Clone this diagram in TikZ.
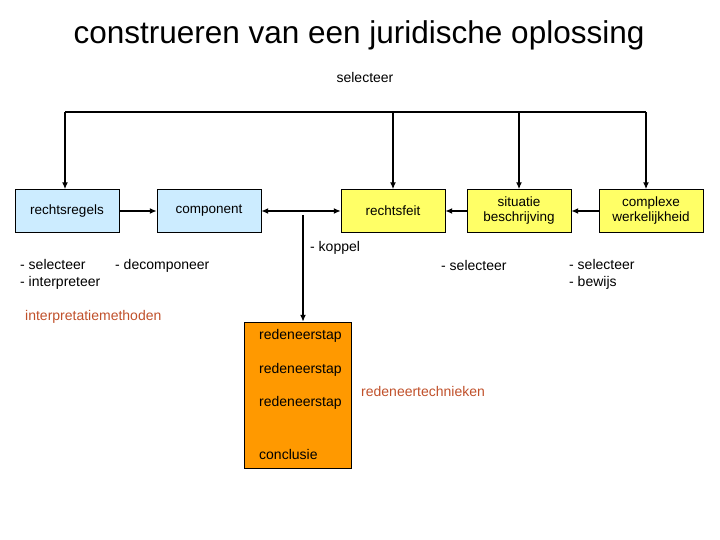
\documentclass[tikz,border=0pt]{standalone}
\usepackage{fontspec}
\setmainfont{Liberation Sans}
\usetikzlibrary{positioning}
\usetikzlibrary{arrows.meta}
\definecolor{lichtblauw}{HTML}{CCECFF}
\definecolor{geel}{HTML}{FFFF66}
\definecolor{oranje}{HTML}{FF9900}
\definecolor{roodbruin}{HTML}{C0502A}

\begin{document}
\begin{tikzpicture}[
            x = 1pt, y = -1pt,
            box/.style = {
                draw,
                fill = #1,
                minimum width = 104pt,
                minimum height = 43pt,
                inner sep = 0pt,
                align = center,
                font = \fontsize{13.5}{15}\selectfont
            },
            box/.default = lichtblauw,
            txt/.style = {anchor = west, align = left, inner sep = 0pt,
                font = \fontsize{14}{17}\selectfont},
            link/.style = {line width = 1.6pt, -{Latex[length=7pt,width=6pt]}},
            node distance = {10pt}
            ]
            \useasboundingbox (0,0) rectangle (720,540);
            \node[font=\fontsize{31.5}{36}\selectfont] (title) at (359,35) {construeren van een juridische oplossing};
            \node[txt, anchor=center] (sel) at (365,77) {selecteer};

            \node[box] (regels) at (67,211) {rechtsregels};
            \node[box] (comp) at (209,211) {component};
            \node[box=geel] (feit) at (393,211) {rechtsfeit};
            \node[box=geel] (situ) at (519,211) {situatie\\beschrijving};
            \node[box=geel] (compl) at (651,211) {complexe\\werkelijkheid};

            % selectie van bovenaf
            \coordinate (t1) at (65,112);
            \coordinate (t4) at (646,112);
            \draw[line width=1.4pt] (t1) -- (t4);
            \draw[link] (t1) -- (regels.north -| t1);
            \draw[link] (393,112) -- (feit);
            \draw[link] (519,112) -- (situ);
            \draw[link] (t4) -- (compl.north -| t4);

            \draw[link] (regels) -- (comp);
            \draw[link, {Latex[length=7pt,width=6pt]}-{Latex[length=7pt,width=6pt]}] (comp) -- (feit);
            \draw[link] (situ) -- (feit);
            \draw[link] (compl) -- (situ);

            \node[box=oranje, minimum width=107pt, minimum height=146pt] (stap) at (298,395) {};
            \coordinate (k) at (303,215);
            \draw[link] (k) -- (stap.north -| k);

            \node[txt] (koppel) at (310,248) {- koppel};
            \node[txt] (interp) at (20,274) {- selecteer\\- interpreteer};
            \node[txt] (decomp) at (115,266) {- decomponeer};
            \node[txt] (sel2) at (441,265) {- selecteer};
            \node[txt] (bewijs) at (569,274) {- selecteer\\- bewijs};
            \node[txt, text=roodbruin] (methoden) at (25,317) {interpretatiemethoden};

            \node[txt] (s1) at (259,336) {redeneerstap};
            \node[txt] (s2) at (259,370) {redeneerstap};
            \node[txt] (s3) at (259,403) {redeneerstap};
            \node[txt] (concl) at (259,454) {conclusie};
            \node[txt, text=roodbruin] (tech) at (361,391) {redeneertechnieken};
        \end{tikzpicture}
\end{document}
